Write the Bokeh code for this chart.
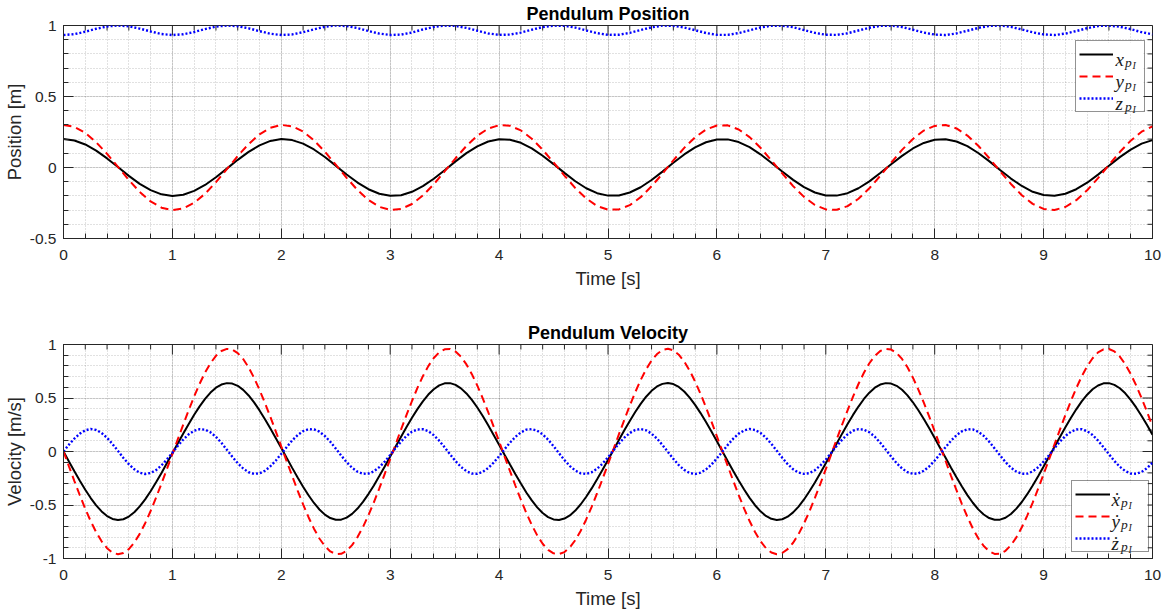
import math

from bokeh.core.properties import value
from bokeh.embed import file_html
from bokeh.layouts import column
from bokeh.models import BoxAnnotation, Legend, LegendItem, Range1d, SingleIntervalTicker
from bokeh.plotting import figure
from bokeh.resources import INLINE

# Sample times [s] for the position traces
t_pos = [0.0, 0.1, 0.2, 0.3, 0.4, 0.5, 0.6, 0.7, 0.8, 0.9,
         1.0, 1.1, 1.2, 1.3, 1.4, 1.5, 1.6, 1.7, 1.8, 1.9,
         2.0, 2.1, 2.2, 2.3, 2.4, 2.5, 2.6, 2.7, 2.8, 2.9,
         3.0, 3.1, 3.2, 3.3, 3.4, 3.5, 3.6, 3.7, 3.8, 3.9,
         4.0, 4.1, 4.2, 4.3, 4.4, 4.5, 4.6, 4.7, 4.8, 4.9,
         5.0, 5.1, 5.2, 5.3, 5.4, 5.5, 5.6, 5.7, 5.8, 5.9,
         6.0, 6.1, 6.2, 6.3, 6.4, 6.5, 6.6, 6.7, 6.8, 6.9,
         7.0, 7.1, 7.2, 7.3, 7.4, 7.5, 7.6, 7.7, 7.8, 7.9,
         8.0, 8.1, 8.2, 8.3, 8.4, 8.5, 8.6, 8.7, 8.8, 8.9,
         9.0, 9.1, 9.2, 9.3, 9.4, 9.5, 9.6, 9.7, 9.8, 9.9,
         10.0]

# Pendulum bob position [m]
x_pos = [0.200, 0.190, 0.162, 0.119, 0.064, 0.003, -0.059, -0.115, -0.159, -0.189,
         -0.200, -0.192, -0.165, -0.123, -0.069, -0.008, 0.054, 0.110, 0.156, 0.187,
         0.200, 0.193, 0.168, 0.127, 0.074, 0.013, -0.049, -0.106, -0.153, -0.185,
         -0.199, -0.195, -0.171, -0.131, -0.079, -0.019, 0.043, 0.101, 0.149, 0.183,
         0.199, 0.196, 0.174, 0.135, 0.083, 0.024, -0.038, -0.097, -0.146, -0.181,
         -0.198, -0.197, -0.176, -0.139, -0.088, -0.029, 0.033, 0.092, 0.142, 0.178,
         0.197, 0.198, 0.179, 0.143, 0.093, 0.034, -0.028, -0.087, -0.138, -0.176,
         -0.197, -0.198, -0.181, -0.146, -0.098, -0.039, 0.023, 0.082, 0.134, 0.173,
         0.196, 0.199, 0.183, 0.150, 0.102, 0.045, -0.017, -0.078, -0.130, -0.171,
         -0.194, -0.199, -0.185, -0.153, -0.107, -0.050, 0.012, 0.073, 0.126, 0.168,
         0.193]
y_pos = [0.300, 0.286, 0.244, 0.178, 0.096, 0.004, -0.088, -0.172, -0.239, -0.283,
         -0.300, -0.288, -0.248, -0.185, -0.103, -0.012, 0.081, 0.165, 0.234, 0.280,
         0.300, 0.290, 0.253, 0.191, 0.111, 0.020, -0.073, -0.159, -0.229, -0.277,
         -0.299, -0.292, -0.257, -0.197, -0.118, -0.028, 0.065, 0.152, 0.224, 0.274,
         0.298, 0.294, 0.261, 0.203, 0.125, 0.036, -0.057, -0.145, -0.218, -0.271,
         -0.297, -0.295, -0.265, -0.209, -0.132, -0.044, 0.050, 0.138, 0.213, 0.267,
         0.296, 0.297, 0.268, 0.214, 0.139, 0.051, -0.042, -0.131, -0.207, -0.264,
         -0.295, -0.298, -0.272, -0.220, -0.146, -0.059, 0.034, 0.124, 0.201, 0.260,
         0.293, 0.299, 0.275, 0.225, 0.153, 0.067, -0.026, -0.116, -0.195, -0.256,
         -0.292, -0.299, -0.278, -0.230, -0.160, -0.075, 0.018, 0.109, 0.189, 0.252,
         0.290]
z_pos = [0.933, 0.939, 0.956, 0.977, 0.993, 1.000, 0.994, 0.978, 0.958, 0.940,
         0.933, 0.938, 0.954, 0.975, 0.992, 1.000, 0.995, 0.980, 0.960, 0.942,
         0.933, 0.937, 0.953, 0.973, 0.991, 1.000, 0.996, 0.982, 0.961, 0.943,
         0.933, 0.936, 0.951, 0.972, 0.990, 0.999, 0.997, 0.983, 0.963, 0.944,
         0.934, 0.936, 0.950, 0.970, 0.989, 0.999, 0.998, 0.985, 0.965, 0.946,
         0.934, 0.935, 0.948, 0.968, 0.987, 0.999, 0.998, 0.986, 0.967, 0.947,
         0.934, 0.934, 0.947, 0.966, 0.986, 0.998, 0.999, 0.988, 0.968, 0.948,
         0.935, 0.934, 0.945, 0.965, 0.984, 0.997, 0.999, 0.989, 0.970, 0.950,
         0.936, 0.933, 0.944, 0.963, 0.983, 0.997, 1.000, 0.990, 0.972, 0.952,
         0.937, 0.933, 0.943, 0.961, 0.981, 0.996, 1.000, 0.991, 0.974, 0.953,
         0.938]

# Sample times [s] for the velocity traces
t_vel = [0.00, 0.05, 0.10, 0.15, 0.20, 0.25, 0.30, 0.35, 0.40, 0.45,
         0.50, 0.55, 0.60, 0.65, 0.70, 0.75, 0.80, 0.85, 0.90, 0.95,
         1.00, 1.05, 1.10, 1.15, 1.20, 1.25, 1.30, 1.35, 1.40, 1.45,
         1.50, 1.55, 1.60, 1.65, 1.70, 1.75, 1.80, 1.85, 1.90, 1.95,
         2.00, 2.05, 2.10, 2.15, 2.20, 2.25, 2.30, 2.35, 2.40, 2.45,
         2.50, 2.55, 2.60, 2.65, 2.70, 2.75, 2.80, 2.85, 2.90, 2.95,
         3.00, 3.05, 3.10, 3.15, 3.20, 3.25, 3.30, 3.35, 3.40, 3.45,
         3.50, 3.55, 3.60, 3.65, 3.70, 3.75, 3.80, 3.85, 3.90, 3.95,
         4.00, 4.05, 4.10, 4.15, 4.20, 4.25, 4.30, 4.35, 4.40, 4.45,
         4.50, 4.55, 4.60, 4.65, 4.70, 4.75, 4.80, 4.85, 4.90, 4.95,
         5.00, 5.05, 5.10, 5.15, 5.20, 5.25, 5.30, 5.35, 5.40, 5.45,
         5.50, 5.55, 5.60, 5.65, 5.70, 5.75, 5.80, 5.85, 5.90, 5.95,
         6.00, 6.05, 6.10, 6.15, 6.20, 6.25, 6.30, 6.35, 6.40, 6.45,
         6.50, 6.55, 6.60, 6.65, 6.70, 6.75, 6.80, 6.85, 6.90, 6.95,
         7.00, 7.05, 7.10, 7.15, 7.20, 7.25, 7.30, 7.35, 7.40, 7.45,
         7.50, 7.55, 7.60, 7.65, 7.70, 7.75, 7.80, 7.85, 7.90, 7.95,
         8.00, 8.05, 8.10, 8.15, 8.20, 8.25, 8.30, 8.35, 8.40, 8.45,
         8.50, 8.55, 8.60, 8.65, 8.70, 8.75, 8.80, 8.85, 8.90, 8.95,
         9.00, 9.05, 9.10, 9.15, 9.20, 9.25, 9.30, 9.35, 9.40, 9.45,
         9.50, 9.55, 9.60, 9.65, 9.70, 9.75, 9.80, 9.85, 9.90, 9.95,
         10.00]

# Pendulum bob velocity [m/s]
x_vel = [0.000, -0.093, -0.184, -0.273, -0.357, -0.435, -0.503, -0.560, -0.603, -0.630,
         -0.640, -0.633, -0.608, -0.568, -0.513, -0.447, -0.371, -0.288, -0.200, -0.108,
         -0.016, 0.077, 0.169, 0.258, 0.343, 0.422, 0.492, 0.551, 0.596, 0.626,
         0.639, 0.635, 0.614, 0.576, 0.524, 0.459, 0.384, 0.302, 0.215, 0.124,
         0.032, -0.061, -0.153, -0.243, -0.329, -0.409, -0.481, -0.542, -0.590, -0.622,
         -0.638, -0.637, -0.618, -0.583, -0.533, -0.471, -0.398, -0.317, -0.230, -0.140,
         -0.047, 0.046, 0.138, 0.228, 0.315, 0.396, 0.469, 0.532, 0.582, 0.618,
         0.637, 0.639, 0.623, 0.590, 0.543, 0.482, 0.411, 0.331, 0.245, 0.155,
         0.063, -0.030, -0.122, -0.213, -0.300, -0.383, -0.457, -0.522, -0.575, -0.613,
         -0.635, -0.640, -0.627, -0.597, -0.552, -0.493, -0.423, -0.345, -0.260, -0.171,
         -0.079, 0.014, 0.107, 0.198, 0.286, 0.369, 0.445, 0.512, 0.567, 0.608,
         0.632, 0.640, 0.630, 0.603, 0.561, 0.504, 0.436, 0.359, 0.275, 0.186,
         0.095, 0.002, -0.091, -0.182, -0.271, -0.355, -0.433, -0.502, -0.559, -0.602,
         -0.629, -0.640, -0.633, -0.609, -0.569, -0.515, -0.448, -0.372, -0.289, -0.201,
         -0.110, -0.018, 0.075, 0.167, 0.256, 0.342, 0.420, 0.491, 0.550, 0.596,
         0.626, 0.639, 0.635, 0.614, 0.577, 0.525, 0.460, 0.386, 0.304, 0.217,
         0.126, 0.033, -0.059, -0.152, -0.241, -0.327, -0.408, -0.479, -0.541, -0.589,
         -0.622, -0.638, -0.637, -0.619, -0.584, -0.534, -0.472, -0.399, -0.318, -0.232,
         -0.141, -0.049, 0.044, 0.136, 0.226, 0.313, 0.394, 0.468, 0.531, 0.582,
         0.617, 0.637, 0.639, 0.623, 0.591, 0.544, 0.483, 0.412, 0.332, 0.247,
         0.157]
y_vel = [0.000, -0.139, -0.276, -0.409, -0.536, -0.652, -0.754, -0.839, -0.904, -0.945,
         -0.960, -0.949, -0.912, -0.852, -0.770, -0.670, -0.556, -0.431, -0.299, -0.163,
         -0.024, 0.116, 0.253, 0.387, 0.515, 0.633, 0.738, 0.826, 0.894, 0.939,
         0.959, 0.953, 0.920, 0.864, 0.785, 0.688, 0.576, 0.453, 0.322, 0.186,
         0.047, -0.092, -0.230, -0.365, -0.494, -0.614, -0.721, -0.813, -0.884, -0.934,
         -0.958, -0.956, -0.928, -0.875, -0.800, -0.706, -0.596, -0.475, -0.345, -0.209,
         -0.071, 0.068, 0.207, 0.342, 0.472, 0.594, 0.704, 0.798, 0.874, 0.927,
         0.955, 0.958, 0.934, 0.886, 0.814, 0.723, 0.616, 0.496, 0.367, 0.233,
         0.095, -0.045, -0.183, -0.320, -0.451, -0.574, -0.686, -0.784, -0.862, -0.920,
         -0.952, -0.959, -0.940, -0.896, -0.828, -0.740, -0.635, -0.517, -0.390, -0.256,
         -0.118, 0.021, 0.160, 0.297, 0.429, 0.554, 0.668, 0.768, 0.850, 0.911,
         0.949, 0.960, 0.945, 0.905, 0.841, 0.756, 0.654, 0.538, 0.412, 0.279,
         0.142, 0.003, -0.136, -0.274, -0.407, -0.533, -0.650, -0.752, -0.838, -0.903,
         -0.944, -0.960, -0.949, -0.913, -0.853, -0.772, -0.672, -0.559, -0.434, -0.302,
         -0.165, -0.026, 0.113, 0.251, 0.385, 0.512, 0.631, 0.736, 0.825, 0.893,
         0.939, 0.959, 0.953, 0.921, 0.865, 0.787, 0.690, 0.579, 0.456, 0.325,
         0.189, 0.050, -0.089, -0.227, -0.362, -0.491, -0.611, -0.719, -0.811, -0.883,
         -0.933, -0.957, -0.956, -0.928, -0.876, -0.802, -0.708, -0.599, -0.477, -0.348,
         -0.212, -0.074, 0.066, 0.204, 0.340, 0.470, 0.592, 0.702, 0.797, 0.872,
         0.926, 0.955, 0.958, 0.935, 0.887, 0.816, 0.725, 0.618, 0.499, 0.370,
         0.236]
z_vel = [0.000, 0.064, 0.121, 0.167, 0.198, 0.210, 0.201, 0.173, 0.128, 0.070,
         0.006, -0.060, -0.119, -0.166, -0.198, -0.210, -0.201, -0.174, -0.130, -0.074,
         -0.011, 0.053, 0.112, 0.161, 0.194, 0.209, 0.204, 0.179, 0.137, 0.081,
         0.017, -0.049, -0.109, -0.159, -0.194, -0.209, -0.204, -0.180, -0.138, -0.084,
         -0.022, 0.042, 0.103, 0.153, 0.190, 0.208, 0.206, 0.185, 0.145, 0.091,
         0.028, -0.038, -0.100, -0.152, -0.189, -0.208, -0.206, -0.185, -0.146, -0.094,
         -0.033, 0.032, 0.093, 0.146, 0.185, 0.206, 0.208, 0.190, 0.153, 0.101,
         0.039, -0.027, -0.090, -0.144, -0.184, -0.206, -0.208, -0.190, -0.154, -0.104,
         -0.044, 0.021, 0.083, 0.137, 0.179, 0.204, 0.209, 0.194, 0.160, 0.111,
         0.050, -0.016, -0.080, -0.136, -0.178, -0.204, -0.209, -0.194, -0.161, -0.113,
         -0.054, 0.010, 0.073, 0.129, 0.173, 0.201, 0.210, 0.198, 0.167, 0.120,
         0.061, -0.004, -0.069, -0.127, -0.172, -0.201, -0.210, -0.198, -0.168, -0.122,
         -0.065, -0.001, 0.062, 0.120, 0.167, 0.197, 0.210, 0.201, 0.174, 0.129,
         0.071, 0.007, -0.058, -0.118, -0.166, -0.197, -0.209, -0.202, -0.175, -0.131,
         -0.075, -0.012, 0.052, 0.111, 0.160, 0.194, 0.209, 0.204, 0.180, 0.138,
         0.082, 0.018, -0.047, -0.108, -0.159, -0.193, -0.209, -0.204, -0.180, -0.139,
         -0.085, -0.023, 0.041, 0.101, 0.152, 0.189, 0.208, 0.206, 0.185, 0.146,
         0.092, 0.029, -0.036, -0.099, -0.151, -0.188, -0.208, -0.207, -0.186, -0.147,
         -0.095, -0.034, 0.030, 0.092, 0.145, 0.184, 0.206, 0.208, 0.190, 0.154,
         0.102, 0.040, -0.025, -0.089, -0.143, -0.183, -0.206, -0.208, -0.191, -0.155,
         -0.105]

pos_tick_labels = {-0.5: "-0.5", 0: "0", 0.5: "0.5", 1: "1"}
vel_tick_labels = {-1: "-1", -0.5: "-0.5", 0: "0", 0.5: "0.5", 1: "1"}

pos_names = ["x", "y", "z"]
vel_names = ["\u1e8b", "\u1e8f", "\u017c"]

AXIS_COLOR = "#262626"
SANS = "Liberation Sans"
SERIF = "Liberation Serif"


def style_axis(ax, ticker):
    ax.ticker = ticker
    ax.axis_line_color = AXIS_COLOR
    ax.axis_line_width = 1
    ax.major_tick_line_color = AXIS_COLOR
    ax.minor_tick_line_color = AXIS_COLOR
    ax.major_tick_in = 10
    ax.major_tick_out = 0
    ax.minor_tick_in = 5
    ax.minor_tick_out = 0
    ax.major_label_text_font = SANS
    ax.major_label_text_font_size = "15.5px"
    ax.major_label_text_color = AXIS_COLOR
    ax.axis_label_text_font = SANS
    ax.axis_label_text_font_size = "18.5px"
    ax.axis_label_text_font_style = "normal"
    ax.axis_label_text_color = AXIS_COLOR


def box_ticks(p, y0, y1):
    # inward tick marks on the top and right edges of the axes box
    x_major = list(range(0, 11))
    x_minor = [i / 5 for i in range(51) if i % 5]
    y_major = [y0 + 0.5 * i for i in range(int(round((y1 - y0) / 0.5)) + 1)]
    y_minor = [y0 + 0.1 * i for i in range(int(round((y1 - y0) / 0.1)) + 1) if i % 5]
    kw = dict(length_units="screen", line_color=AXIS_COLOR, line_width=1)
    p.ray(x=x_major, y=[y1] * len(x_major), length=10, angle=-math.pi / 2, **kw)
    p.ray(x=x_minor, y=[y1] * len(x_minor), length=5, angle=-math.pi / 2, **kw)
    p.ray(x=[10] * len(y_major), y=y_major, length=10, angle=math.pi, **kw)
    p.ray(x=[10] * len(y_minor), y=y_minor, length=5, angle=math.pi, **kw)


def build(title, ylabel, y0, y1, ylabels, frame_top, frame_h, height):
    p = figure(width=1173, height=height, x_range=Range1d(0, 10), y_range=Range1d(y0, y1),
               output_backend="svg", toolbar_location=None,
               min_border_left=63, min_border_right=21,
               min_border_top=frame_top, min_border_bottom=height - frame_top - frame_h,
               outline_line_color=AXIS_COLOR, outline_line_width=1,
               background_fill_color="white", border_fill_color="white")
    p.title.text = title
    p.title.align = "center"
    p.title.text_font = SANS
    p.title.text_font_size = "18px"
    p.title.text_font_style = "bold"
    p.title.text_color = "black"
    p.title.standoff = 3

    xt = SingleIntervalTicker(interval=1, num_minor_ticks=5)
    yt = SingleIntervalTicker(interval=0.5, num_minor_ticks=5)
    xb = p.below[0]
    yl = p.left[0]
    style_axis(xb, xt)
    style_axis(yl, yt)
    xb.axis_label = "Time [s]"
    xb.major_label_standoff = 11
    xb.axis_label_standoff = 5
    yl.axis_label = ylabel
    yl.major_label_standoff = 7
    yl.axis_label_standoff = 2
    yl.major_label_overrides = ylabels

    p.xgrid.ticker = xt
    p.ygrid.ticker = yt
    for g in (p.xgrid[0], p.ygrid[0]):
        g.grid_line_color = AXIS_COLOR
        g.grid_line_alpha = 0.15
        g.minor_grid_line_color = AXIS_COLOR
        g.minor_grid_line_alpha = 0.28
        g.minor_grid_line_dash = "1 2"

    box_ticks(p, y0, y1)
    return p


def add_legend(p, renderers, names, x, y, glyph_w, label_w, y1, dx, dy):
    width = 3 + glyph_w + 2 + label_w + 3
    # opaque backing for the legend panel, drawn beneath the entry texts
    p.add_layout(BoxAnnotation(left=x, right=x + width, bottom=y, top=y + 70,
                               left_units="screen", right_units="screen",
                               bottom_units="screen", top_units="screen",
                               fill_color="white", fill_alpha=1.0, line_color=None,
                               level="annotation"))
    legend = Legend(items=[LegendItem(label=" ", renderers=[r]) for r in renderers],
                    location=(x, y), orientation="vertical", margin=0, padding=3, spacing=2,
                    glyph_width=glyph_w, glyph_height=20, label_width=label_w,
                    label_height=20, label_standoff=2, label_text_font_size="10px",
                    border_line_color=AXIS_COLOR, border_line_width=1,
                    background_fill_alpha=0.0)
    p.add_layout(legend)
    # entry texts: symbol with a two-level subscript, offset in pixels from the
    # top-right corner of the axes box
    n = len(names)
    anchor_x = [10] * n
    anchor_y = [y1] * n
    rows = [dy + 22 * i for i in range(n)]
    common = dict(text_font=value(SERIF), text_font_style="italic", text_color="#1a1a1a",
                  text_baseline="alphabetic", text_align="left", level="overlay")
    p.text(x=anchor_x, y=anchor_y, text=names, x_offset=dx, y_offset=rows,
           text_font_size="19px", **common)
    p.text(x=anchor_x, y=anchor_y, text=["p"] * n, x_offset=dx + 9.5,
           y_offset=[r + 3 for r in rows], text_font_size="13.5px", **common)
    p.text(x=anchor_x, y=anchor_y, text=["I"] * n, x_offset=dx + 17,
           y_offset=[r + 5.5 for r in rows], text_font_size="10px", **common)


def draw(p, t, a, b, c):
    r1 = p.line(t, a, line_color="black", line_width=2)
    r2 = p.line(t, b, line_color="red", line_width=2, line_dash="8 5")
    r3 = p.line(t, c, line_color="blue", line_width=2.4, line_dash="2 2")
    return [r1, r2, r3]


pos = build("Pendulum Position", "Position [m]", -0.5, 1, pos_tick_labels, 25, 213, 306)
rs = draw(pos, t_pos, x_pos, y_pos, z_pos)
add_legend(pos, rs, pos_names, 1012, 126, 34, 26, 1, -37, 34)

vel = build("Pendulum Velocity", "Velocity [m/s]", -1, 1, vel_tick_labels, 38, 214, 306)
rs = draw(vel, t_vel, x_vel, y_vel, z_vel)
add_legend(vel, rs, vel_names, 1008, 6, 35, 33, 1, -41, 155)

layout = column(pos, vel)
open("out.html", "w").write(file_html(layout, INLINE))
